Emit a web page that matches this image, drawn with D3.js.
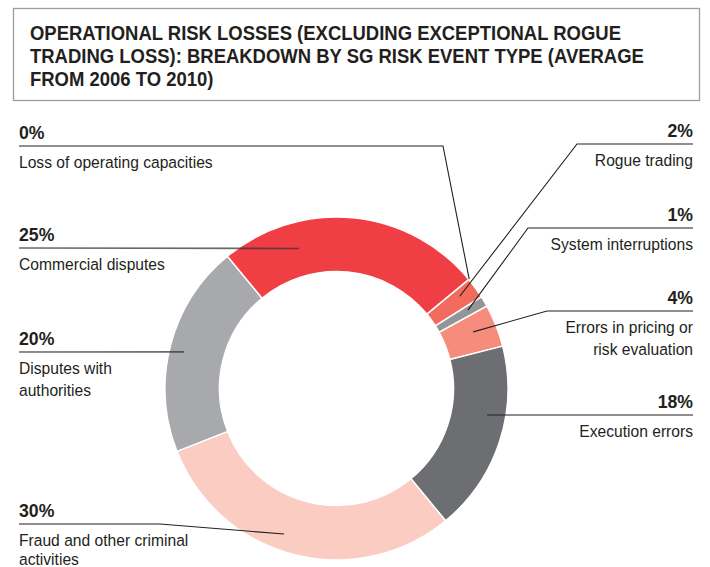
<!DOCTYPE html>
<html>
<head>
<meta charset="utf-8">
<script src="https://cdn.jsdelivr.net/npm/d3@7"></script>
<style>
  html, body { margin: 0; padding: 0; background: #ffffff; }
  svg { display: block; }
  text { font-family: "Liberation Sans", Arial, "Helvetica", sans-serif; fill: #231f20; }
</style>
</head>
<body>
<svg id="chart" width="710" height="567"></svg>
<script>
// ---- Data ----
const titleLines = [
  "OPERATIONAL RISK LOSSES (EXCLUDING EXCEPTIONAL ROGUE",
  "TRADING LOSS): BREAKDOWN BY SG RISK EVENT TYPE (AVERAGE",
  "FROM 2006 TO 2010)"
];
const categories = [
  "Loss of operating capacities",
  "Rogue trading",
  "System interruptions",
  "Errors in pricing or risk evaluation",
  "Execution errors",
  "Fraud and other criminal activities",
  "Disputes with authorities",
  "Commercial disputes"
];
const values = [0, 2, 1, 4, 18, 30, 20, 25];
const labelLines = [
  ["Loss of operating capacities"],
  ["Rogue trading"],
  ["System interruptions"],
  ["Errors in pricing or", "risk evaluation"],
  ["Execution errors"],
  ["Fraud and other criminal", "activities"],
  ["Disputes with", "authorities"],
  ["Commercial disputes"]
];
const colors = ["#ef3f45", "#f26b5f", "#939598", "#f58c7c", "#6d6e71", "#fbcdc2", "#a7a9ac", "#ef3f45"];

// ---- Layout (positions only) ----
const cx = 336.5, cy = 388.5, R = 171.5, r0 = 117;
const startDeg = 50.5;
const leaders = [
  { side: "left",  y: 146, elbow: 443, ang: 50.5,  rad: 172,   gap: 22 },
  { side: "right", y: 144, elbow: 577, ang: 53.2,  rad: 154,   gap: 22 },
  { side: "right", y: 228, elbow: 528, ang: 59.2,  rad: 153,   gap: 22 },
  { side: "right", y: 311, elbow: 547, ang: 67.5,  rad: 148,   gap: 22 },
  { side: "right", y: 415, elbow: null, ang: 100,  rad: 153,   gap: 22 },
  { side: "left",  y: 524, elbow: 160, ang: 199.8, rad: 154.7, gap: 19.5 },
  { side: "left",  y: 352, elbow: null, ang: 283.5, rad: 157,  gap: 22 },
  { side: "left",  y: 248, elbow: null, ang: 345,  rad: 145,   gap: 22 }
];
const leftX = 19, rightX = 693;
const sx = 0.93; // horizontal condensing to mimic a condensed face

const svg = d3.select("#chart");
const rad = d => d * Math.PI / 180;

// Title box
svg.append("rect")
  .attr("x", 13.5).attr("y", 8.5).attr("width", 686).attr("height", 92)
  .attr("fill", "none").attr("stroke", "#9d9d9d").attr("stroke-width", 1.3);

svg.append("g").attr("transform", "translate(30,0) scale(0.88,1)")
  .selectAll("text").data(titleLines).join("text")
  .attr("x", 0).attr("y", (d, i) => 40.5 + i * 23)
  .attr("font-size", 21).attr("font-weight", "bold")
  .text(d => d);

// Donut
const pie = d3.pie().sort(null).value(d => d)
  .startAngle(rad(startDeg)).endAngle(rad(startDeg) + 2 * Math.PI);
const arc = d3.arc().innerRadius(r0).outerRadius(R);
const arcs = pie(values);

const g = svg.append("g").attr("transform", `translate(${cx},${cy})`);
g.selectAll("path").data(arcs).join("path")
  .attr("d", arc)
  .attr("fill", (d, i) => colors[i])
  .attr("stroke", "#ffffff").attr("stroke-width", d => d.value > 0 ? 1.5 : 0);

// Leaders
const lg = svg.append("g");
leaders.forEach((L, i) => {
  const p = d3.pointRadial(rad(L.ang), L.rad);
  const end = [cx + p[0], cy + p[1]];
  const startX = L.side === "left" ? leftX : rightX;
  const pts = [[startX, L.y]];
  if (L.elbow !== null) pts.push([L.elbow, L.y]);
  pts.push(end);
  const over = (L.elbow === null && L.side === "left");
  lg.append("path")
    .attr("d", d3.line()(pts))
    .attr("fill", "none")
    .attr("stroke", over ? "#3a3536" : "#231f20")
    .attr("stroke-opacity", over ? 0.75 : 1)
    .attr("stroke-width", over ? 1.6 : 1.1);
});

// Labels
const tg = svg.append("g");
leaders.forEach((L, i) => {
  const x = L.side === "left" ? leftX : rightX;
  const anchor = L.side === "left" ? "start" : "end";
  tg.append("text")
    .attr("transform", `translate(${x},${L.y - 7.5}) scale(${sx},1)`)
    .attr("text-anchor", anchor)
    .attr("font-size", 19).attr("font-weight", "bold")
    .text(values[i] + "%");
  labelLines[i].forEach((t, j) => {
    tg.append("text")
      .attr("transform", `translate(${x},${L.y + 21.5 + j * L.gap}) scale(${sx},1)`)
      .attr("text-anchor", anchor)
      .attr("font-size", 16.8)
      .text(t);
  });
});
</script>
</body>
</html>
